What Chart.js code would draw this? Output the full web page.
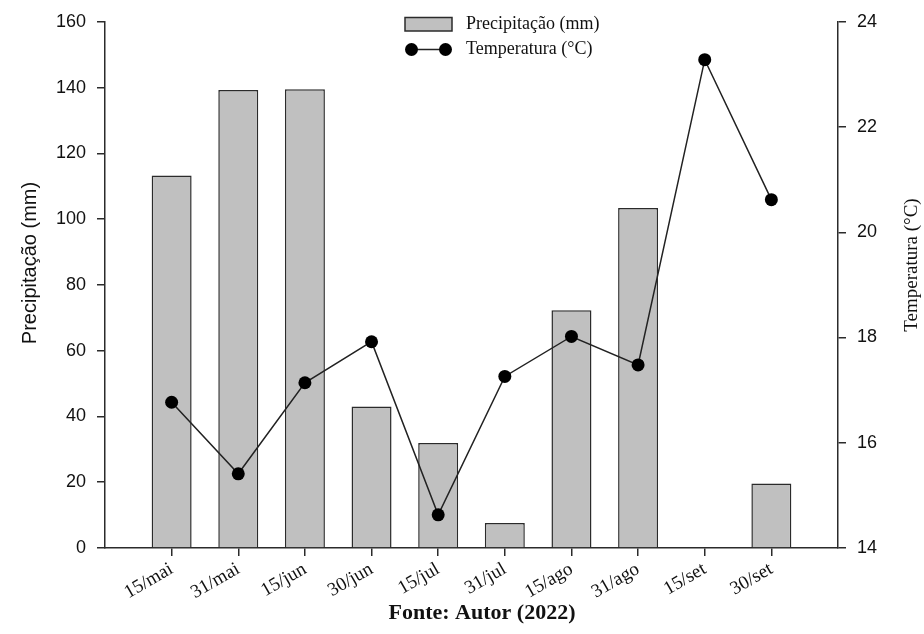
<!DOCTYPE html>
<html><head><meta charset="utf-8">
<script src="https://cdn.jsdelivr.net/npm/chart.js@4.4.0/dist/chart.umd.min.js"></script>
<style>html,body{margin:0;padding:0;background:#fff;}</style>
</head><body>
<canvas id="c" width="924" height="634"></canvas>
<script>
const categories = ['15/mai','31/mai','15/jun','30/jun','15/jul','31/jul','15/ago','31/ago','15/set','30/set'];
const precipitacao = [113.3, 139.3, 139.5, 43.0, 31.9, 7.6, 72.3, 103.4, null, 19.6];
const temperatura = [16.77, 15.41, 17.14, 17.92, 14.63, 17.26, 18.02, 17.48, 23.28, 20.62];
const precipTicks = [0, 20, 40, 60, 80, 100, 120, 140, 160];
const tempTicks = [14, 16, 18, 20, 22, 24];
const labelPrecip = 'Precipitação (mm)';
const labelTemp = 'Temperatura (°C)';
const sourceText = 'Fonte: Autor (2022)';

const AXIS = '#2b2b2b';
const TXT = '#111';

const overlay = {
  id: 'overlay',
  afterDraw(chart) {
    const ctx = chart.ctx;
    const ds = chart.data.datasets;
    ctx.save();
    ctx.fillStyle = TXT;
    ctx.textAlign = 'center';
    ctx.textBaseline = 'middle';
    // left axis title
    ctx.save();
    ctx.translate(30, 263);
    ctx.rotate(-Math.PI / 2);
    ctx.font = '20px "Liberation Sans"';
    ctx.fillText(labelPrecip, 0, 0);
    ctx.restore();
    // right axis title (reads bottom to top)
    ctx.save();
    ctx.translate(912, 265);
    ctx.rotate(-Math.PI / 2);
    ctx.font = '19px "Liberation Serif"';
    ctx.fillText(labelTemp, 0, 0);
    ctx.restore();

    // legend row 1: bar
    ctx.fillStyle = ds[0].backgroundColor;
    ctx.strokeStyle = ds[0].borderColor;
    ctx.lineWidth = 1.5;
    ctx.fillRect(405, 17.5, 47, 13.5);
    ctx.strokeRect(405, 17.5, 47, 13.5);
    ctx.font = '18px "Liberation Serif"';
    ctx.fillStyle = TXT;
    ctx.textAlign = 'left';
    ctx.fillText(ds[0].label, 466, 24.5);
    // legend row 2: line with dots
    ctx.strokeStyle = ds[1].borderColor;
    ctx.beginPath();
    ctx.moveTo(411.5, 49.5);
    ctx.lineTo(445.5, 49.5);
    ctx.stroke();
    ctx.fillStyle = ds[1].pointBackgroundColor;
    [411.5, 445.5].forEach(x => { ctx.beginPath(); ctx.arc(x, 49.5, 6.5, 0, Math.PI * 2); ctx.fill(); });
    ctx.fillStyle = TXT;
    ctx.fillText(ds[1].label, 466, 49.5);
    // source
    ctx.font = 'bold 22px "Liberation Serif"';
    ctx.textAlign = 'center';
    ctx.fillText(sourceText, 482, 613);
    ctx.restore();
  }
};

new Chart(document.getElementById('c'), {
  type: 'bar',
  data: {
    datasets: [
      {
        type: 'bar',
        label: labelPrecip,
        data: categories.map((c, i) => ({ x: i, y: precipitacao[i] })),
        yAxisID: 'y',
        backgroundColor: '#c0c0c0',
        borderColor: AXIS,
        borderWidth: 1.5,
        barPercentage: 0.6,
        categoryPercentage: 1.0,
        order: 2
      },
      {
        type: 'line',
        label: labelTemp,
        data: categories.map((c, i) => ({ x: i, y: temperatura[i] })),
        yAxisID: 'y1',
        borderColor: '#222',
        borderWidth: 1.5,
        pointRadius: 6.5,
        pointBackgroundColor: '#000',
        pointBorderColor: '#000',
        pointBorderWidth: 0,
        tension: 0,
        fill: false,
        order: 1
      }
    ]
  },
  options: {
    responsive: false,
    animation: false,
    devicePixelRatio: 1,
    layout: { padding: { top: 20, left: 0, right: 0, bottom: 0 } },
    plugins: { legend: { display: false }, tooltip: { enabled: false }, title: { display: false } },
    scales: {
      x: {
        type: 'linear', min: -1, max: 10, offset: false,
        afterBuildTicks: s => { s.ticks = categories.map((_, i) => ({ value: i })); },
        ticks: {
          callback: v => categories[v],
          autoSkip: false, maxRotation: 30, minRotation: 30,
          font: { family: 'Liberation Serif', size: 19 }, color: TXT, padding: 2
        },
        grid: { offset: false, drawOnChartArea: false, drawTicks: true, tickLength: 8, color: AXIS, lineWidth: 1.5 },
        border: { display: true, color: AXIS, width: 1.5 },
        afterFit: s => { s.height = 86; }
      },
      y: {
        position: 'left', min: 0, max: 160,
        afterBuildTicks: s => { s.ticks = precipTicks.map(v => ({ value: v })); },
        ticks: { font: { family: 'Liberation Sans', size: 18 }, color: TXT, padding: 11 },
        grid: { drawOnChartArea: false, drawTicks: true, tickLength: 8, color: AXIS, lineWidth: 1.5 },
        border: { display: true, color: AXIS, width: 1.5 },
        afterFit: s => { s.width = 105; }
      },
      y1: {
        position: 'right', min: 14, max: 24,
        afterBuildTicks: s => { s.ticks = tempTicks.map(v => ({ value: v })); },
        ticks: { font: { family: 'Liberation Sans', size: 18 }, color: TXT, padding: 11 },
        grid: { drawOnChartArea: false, drawTicks: true, tickLength: 8, color: AXIS, lineWidth: 1.5 },
        border: { display: true, color: AXIS, width: 1.5 },
        afterFit: s => { s.width = 86; }
      }
    }
  },
  plugins: [overlay]
});
</script>
</body></html>
